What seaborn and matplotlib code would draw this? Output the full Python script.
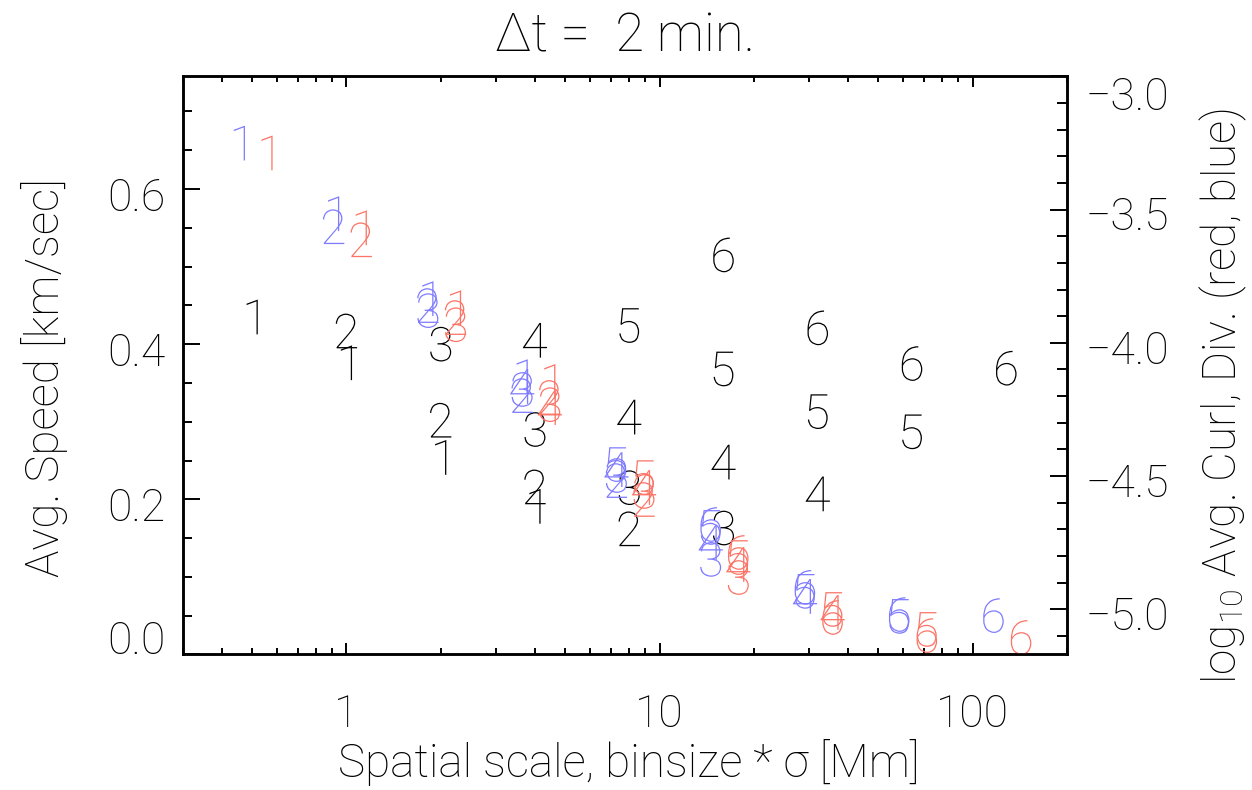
import matplotlib
matplotlib.use("Agg")
import matplotlib.pyplot as plt
import numpy as np
import pandas as pd
import seaborn as sns
from matplotlib.ticker import FixedLocator, MultipleLocator, LogLocator, NullFormatter
from matplotlib.transforms import ScaledTranslation

# Bin sizes (each plotted as its own digit 1..6) and smoothing widths sigma [Mm]
binsize = [1, 2, 4, 8, 16, 32]
sigma = [0.5, 1.0, 2.0, 4.0]

# Average speed [km/s]; one row per bin size, one column per sigma
speed = [
    [0.435, 0.376, 0.254, 0.191],
    [0.417, 0.302, 0.216, 0.162],
    [0.400, 0.290, 0.215, 0.163],
    [0.405, 0.306, 0.248, 0.207],
    [0.424, 0.368, 0.313, 0.287],
    [0.515, 0.421, 0.375, 0.369],
]

# log10 of the average divergence (blue)
log_div = [
    [-3.250, -3.515, -3.834, -4.127],
    [-3.564, -3.860, -4.198, -4.517],
    [-3.879, -4.175, -4.498, -4.813],
    [-4.164, -4.476, -4.750, -4.952],
    [-4.457, -4.693, -4.933, -5.027],
    [-4.682, -4.918, -5.020, -5.024],
]

# log10 of the average curl (red)
log_curl = [
    [-3.287, -3.568, -3.868, -4.145],
    [-3.613, -3.905, -4.205, -4.588],
    [-3.932, -4.232, -4.558, -4.881],
    [-4.243, -4.543, -4.832, -5.012],
    [-4.506, -4.806, -5.001, -5.076],
    [-4.787, -5.031, -5.099, -5.106],
]

x_ticks = [1, 10, 100]
speed_ticks = [0.0, 0.2, 0.4, 0.6]
log_ticks = [-5.0, -4.5, -4.0, -3.5, -3.0]

# ---- styling -------------------------------------------------------------
sns.set_style("ticks")
plt.rcParams.update({
    "font.family": ["Roboto", "DejaVu Sans"],
    "font.weight": "light",
    "axes.labelweight": "light",
    "axes.titleweight": "light",
    "mathtext.default": "regular",
    "axes.linewidth": 1.8,
    "text.color": "black",
    "axes.labelcolor": "black",
    "axes.edgecolor": "black",
    "xtick.color": "black",
    "ytick.color": "black",
})

BLUE = "#7f7bff"
RED = "#fb7466"
DODGE_DIV, DODGE_CURL = 0.91, 1.115   # horizontal shift of the blue/red digits
GLYPH = 25.0 ** 2                     # marker area (pt^2) of the digit glyphs
TICK_FS, LABEL_FS, TITLE_FS = 32, 33, 38

rows = []
for i, b in enumerate(binsize):
    for j, s in enumerate(sigma):
        rows.append(dict(digit=str(i + 1), scale=b * s, speed=speed[i][j],
                         div=log_div[i][j], curl=log_curl[i][j]))
df = pd.DataFrame(rows)
df["scale_div"] = df["scale"] * DODGE_DIV
df["scale_curl"] = df["scale"] * DODGE_CURL
digit_markers = {str(k): f"${k}$" for k in range(1, 7)}

fig = plt.figure(figsize=(12.52, 7.90), dpi=100)
ax = fig.add_axes([0.14593, 0.17152, 0.70631, 0.73165])
ax.set_xscale("log")

sns.scatterplot(data=df, x="scale", y="speed", style="digit", markers=digit_markers,
                color="black", s=GLYPH, linewidth=0, edgecolor="none",
                legend=False, ax=ax)

ax2 = ax.twinx()
sns.scatterplot(data=df, x="scale_div", y="div", style="digit", markers=digit_markers,
                color=BLUE, s=GLYPH, linewidth=0, edgecolor="none",
                legend=False, ax=ax2)
sns.scatterplot(data=df, x="scale_curl", y="curl", style="digit", markers=digit_markers,
                color=RED, s=GLYPH, linewidth=0, edgecolor="none",
                legend=False, ax=ax2)

ax.set_xlim(0.3, 200)
ax.set_ylim(0.0, 0.745)
ax2.set_ylim(-5.17, -3.0)

# ---- ticks ---------------------------------------------------------------
ax.xaxis.set_major_locator(FixedLocator(x_ticks))
ax.set_xticklabels([str(t) for t in x_ticks])
ax.xaxis.set_minor_locator(LogLocator(base=10, subs=np.arange(2, 10)))
ax.xaxis.set_minor_formatter(NullFormatter())
ax.tick_params(axis="x", which="major", direction="in", top=True, length=8,
               width=1.4, labelsize=TICK_FS, pad=28)
ax.tick_params(axis="x", which="minor", direction="in", top=True, length=4.5,
               width=1.4)

ax.yaxis.set_major_locator(FixedLocator(speed_ticks))
ax.set_yticklabels([f"{t:.1f}" for t in speed_ticks])
ax.yaxis.set_minor_locator(MultipleLocator(0.05))
ax.tick_params(axis="y", which="major", direction="in", right=False, length=12,
               width=1.4, labelsize=TICK_FS, pad=12.5)
ax.tick_params(axis="y", which="minor", direction="in", right=False, length=6.5,
               width=1.4)

ax2.yaxis.set_major_locator(FixedLocator(log_ticks))
ax2.set_yticklabels([f"{t:.1f}".replace("-", "\u2212") for t in log_ticks])
ax2.yaxis.set_minor_locator(MultipleLocator(0.1))
ax2.tick_params(axis="y", which="major", direction="in", length=12, width=1.4,
                labelsize=TICK_FS, pad=13)
ax2.tick_params(axis="y", which="minor", direction="in", length=7, width=1.4)
for sp in ax2.spines.values():
    sp.set_linewidth(1.8)

# edge tick labels are pulled inside the frame
def shift(label, dy_px):
    label.set_transform(label.get_transform()
                        + ScaledTranslation(0, dy_px / 100.0, fig.dpi_scale_trans))

for t, lab in zip(speed_ticks, ax.get_yticklabels()):
    shift(lab, 17 if t == 0.0 else -5)
for t, lab in zip(log_ticks, ax2.get_yticklabels()):
    shift(lab, -17 if t == -3.0 else -4)

# ---- labels --------------------------------------------------------------
ax.set_xlabel("Spatial scale, binsize * \u03c3 [Mm]", fontsize=LABEL_FS)
ax.xaxis.label.set_va("baseline")
ax.xaxis.set_label_coords(0.505, -0.212)

ax.set_ylabel("Avg. Speed [km/sec]", fontsize=LABEL_FS)
ax.yaxis.set_label_coords(-0.13, 0.479)

ax2.set_ylabel("log$_{10}$ Avg. Curl, Div. (red, blue)", fontsize=LABEL_FS)
ax2.yaxis.set_label_coords(1.148, 0.447)

ax.set_title("\u0394t =  2 min.", fontsize=TITLE_FS, y=1.0424, pad=0, va="baseline")

fig.savefig("out.png", dpi=100)
